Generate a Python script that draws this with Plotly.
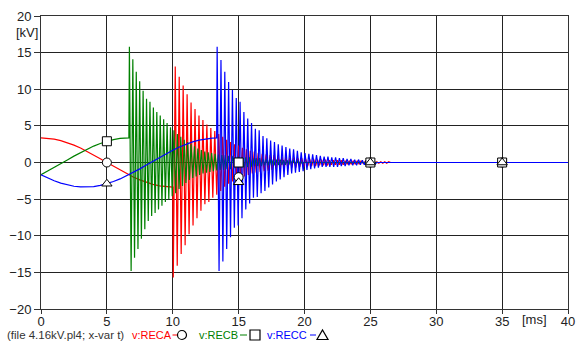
import plotly.graph_objects as go

# ---------------- data (kV, ms) ----------------
# 50 Hz phase voltages sampled every 0.5 ms up to each pole's interruption
pre_step = 0.5
A_pre = [3.35, 3.31, 3.19, 2.98, 2.71, 2.37, 1.97, 1.52, 1.04, 0.52, 0.0,
         -0.52, -1.04, -1.52, -1.97, -2.37, -2.71, -2.98, -3.19, -3.31, -3.35]
B_pre = [-1.68, -1.20, -0.70, -0.18, 0.35, 0.87, 1.36, 1.82, 2.24, 2.60, 2.90,
         3.13, 3.28, 3.35]
C_pre = [-1.68, -2.11, -2.49, -2.81, -3.06, -3.24, -3.33, -3.35, -3.28, -3.13,
         -2.90, -2.60, -2.24, -1.82, -1.36, -0.87, -0.35, 0.18, 0.70, 1.20, 1.68,
         2.11, 2.49, 2.81, 3.06, 3.24, 3.33]

# interruption instant, voltage at interruption, half period of the ringing
chop_t = {"A": 10.0, "B": 6.67, "C": 13.33}
chop_v = {"A": -3.35, "B": 3.35, "C": 3.35}
half_T = {"A": 0.15, "B": 0.13, "C": 0.145}

# successive ringing extremes after interruption (first swing, opposite swing)
A_first = [-15.7, -14.1, -12.5, -11.3, -9.8, -8.6, -7.6, -6.6, -5.7, -5.4,
           -4.8, -4.4, -3.9, -3.3, -2.9, -2.6, -2.3, -2.1, -1.9, -1.7,
           -1.5, -1.4, -1.3, -1.2, -1.1, -1.0, -0.9, -0.9, -0.8, -0.8,
           -0.7, -0.7, -0.6, -0.6, -0.5, -0.5, -0.5, -0.4, -0.4, -0.4,
           -0.3, -0.3, -0.3, -0.3, -0.2, -0.2, -0.2, -0.2, -0.1, -0.1,
           -0.1, -0.1, -0.1, -0.1, -0.1]
A_second = [13.1, 11.7, 10.5, 9.3, 8.2, 7.3, 6.4, 5.8, 5.2, 4.7,
            4.3, 3.9, 3.5, 3.1, 2.8, 2.5, 2.3, 2.0, 1.8, 1.6,
            1.5, 1.3, 1.2, 1.1, 1.0, 1.0, 0.9, 0.8, 0.8, 0.7,
            0.7, 0.6, 0.6, 0.5, 0.5, 0.5, 0.4, 0.4, 0.4, 0.3,
            0.3, 0.3, 0.3, 0.2, 0.2, 0.2, 0.2, 0.2, 0.1, 0.1,
            0.1, 0.1, 0.1, 0.1, 0.1]
B_first = [15.8, 14.1, 12.4, 11.1, 9.8, 8.7, 8.3, 7.5, 6.9, 6.4,
           5.9, 5.4, 4.8, 4.4, 3.9, 3.5, 3.1, 2.8, 2.5, 2.2,
           1.9, 1.7, 1.5, 1.4, 1.3, 1.2, 1.1, 1.0, 1.0, 0.9,
           0.9, 0.8, 0.8, 0.7, 0.7, 0.7, 0.6, 0.6, 0.6, 0.5,
           0.5, 0.5, 0.4, 0.4, 0.4, 0.3, 0.3, 0.3, 0.3, 0.2, 0.2]
B_second = [-14.8, -13.0, -11.8, -10.4, -9.1, -8.0, -7.3, -6.9, -6.4, -5.9,
            -5.4, -5.0, -4.6, -4.2, -3.6, -3.2, -2.8, -2.4, -2.1, -1.9,
            -1.7, -1.5, -1.4, -1.3, -1.2, -1.1, -1.0, -1.0, -0.9, -0.9,
            -0.8, -0.8, -0.7, -0.7, -0.6, -0.6, -0.5, -0.5, -0.5, -0.4,
            -0.4, -0.4, -0.4, -0.3, -0.3, -0.3, -0.3, -0.2, -0.2, -0.2, -0.2]
C_first = [15.8, 14.0, 12.4, 11.0, 9.9, 8.8, 8.3, 6.9, 6.0, 5.4,
           4.6, 4.4, 3.6, 3.3, 3.0, 2.8, 2.5, 2.3, 2.1, 1.9,
           1.8, 1.6, 1.4, 1.3, 1.2, 1.1, 1.0, 0.9, 0.8, 0.8,
           0.7, 0.7, 0.6, 0.6, 0.5, 0.5, 0.4, 0.4, 0.3, 0.3, 0.2, 0.1]
C_second = [-14.8, -13.5, -11.8, -10.2, -8.9, -8.6, -7.6, -6.4, -5.6, -4.8,
            -4.7, -4.2, -3.9, -3.4, -3.0, -2.6, -2.3, -2.0, -1.7, -1.5,
            -1.4, -1.3, -1.2, -1.0, -0.9, -0.8, -0.7, -0.6, -0.6, -0.6,
            -0.6, -0.6, -0.5, -0.5, -0.4, -0.4, -0.4, -0.3, -0.3, -0.2, -0.2, -0.1]

# curve markers
mark_t = [5, 15, 25, 35]
A_mark = [0.0, -2.0, 0.0, 0.0]
B_mark = [2.9, 0.0, 0.0, 0.0]
C_mark = [-2.9, -2.7, 0.0, 0.0]

T_END = 40.0
RED, GREEN, BLUE = "#ff0000", "#008000", "#0000ff"
FONT = "Liberation Sans, Arial, sans-serif"


def build(pre, key, first, second):
    t = [i * pre_step for i in range(len(pre))]
    v = list(pre)
    if t[-1] < chop_t[key] - 1e-9:
        t.append(chop_t[key])
        v.append(chop_v[key])
    h = half_T[key]
    tk = chop_t[key] + 0.04
    for a, b in zip(first, second):
        t += [tk, tk + h]
        v += [a, b]
        tk += 2 * h
    t += [tk, T_END]
    v += [0.0, 0.0]
    return t, v


tA, vA = build(A_pre, "A", A_first, A_second)
tB, vB = build(B_pre, "B", B_first, B_second)
tC, vC = build(C_pre, "C", C_first, C_second)

fig = go.Figure()
for t, v, c in [(tA, vA, RED), (tB, vB, GREEN), (tC, vC, BLUE)]:
    fig.add_trace(go.Scatter(x=t, y=v, mode="lines",
                             line=dict(color=c, width=1.2), hoverinfo="skip"))
for vals, sym in [(A_mark, "circle"), (B_mark, "square"), (C_mark, "triangle-up")]:
    fig.add_trace(go.Scatter(x=mark_t, y=vals, mode="markers",
                             marker=dict(symbol=sym, size=9, color="white",
                                         line=dict(color="black", width=1))))

# page geometry
WIDTH, HEIGHT = 581, 341
L, R, TOP, BOT = 41, 13, 16, 32
PW, PH = WIDTH - L - R, HEIGHT - TOP - BOT


def px(x):
    return (x - L) / PW


def py(y):
    return (HEIGHT - BOT - y) / PH


axis_common = dict(showgrid=True, gridcolor="#222", gridwidth=1, zeroline=False,
                   showline=True, linecolor="#333", linewidth=1, mirror=True,
                   ticks="outside", tickcolor="#333", tickwidth=1, automargin=False,
                   tickfont=dict(family=FONT, size=13, color="#222"))

fig.update_xaxes(range=[0, 40], tickvals=list(range(0, 41, 5)), ticklen=4,
                 ticklabelstandoff=-4, **axis_common)
fig.update_yaxes(range=[-20, 20], tickvals=list(range(-20, 21, 5)), ticklen=6, **axis_common)

ann = []


def text(x, y, s, color="#222", size=13, anchor="center"):
    ann.append(dict(xref="paper", yref="paper", x=px(x), y=py(y), text=s,
                    showarrow=False, xanchor=anchor, yanchor="middle",
                    font=dict(family=FONT, size=size, color=color)))


text(27, 33, "[kV]")
text(534, 320, "[ms]")

LY = 335
text(65.5, LY, "(file 4.16kV.pl4; x-var t)", color="#333", size=11.5)
text(151.5, LY, "v:RECA", color=RED, size=11)
text(218.5, LY, "v:RECB", color=GREEN, size=11)
text(286.5, LY, "v:RECC", color=BLUE, size=11)

shapes = []


def seg(x0, x1, y, color):
    shapes.append(dict(type="line", xref="paper", yref="paper",
                       x0=px(x0), x1=px(x1), y0=py(y), y1=py(y),
                       line=dict(color=color, width=1)))


seg(172.5, 177.5, LY, RED)
shapes.append(dict(type="circle", xref="paper", yref="paper",
                   x0=px(177.5), x1=px(186.5), y0=py(LY - 4.5), y1=py(LY + 4.5),
                   line=dict(color="black", width=1.2)))
seg(240, 247, LY, GREEN)
shapes.append(dict(type="rect", xref="paper", yref="paper",
                   x0=px(250), x1=px(260), y0=py(LY - 5), y1=py(LY + 5),
                   line=dict(color="black", width=1.2)))
seg(310, 316, LY, BLUE)
tx0, tx1, ty0, ty1 = px(317), px(328), py(LY + 4.5), py(LY - 5)
shapes.append(dict(type="path", xref="paper", yref="paper",
                   path=f"M {tx0} {ty0} L {tx1} {ty0} L {(tx0 + tx1) / 2} {ty1} Z",
                   line=dict(color="black", width=1.2)))

fig.update_layout(width=WIDTH, height=HEIGHT, autosize=False,
                  margin=dict(l=L, r=R, t=TOP, b=BOT, pad=0),
                  paper_bgcolor="white", plot_bgcolor="white",
                  showlegend=False, annotations=ann, shapes=shapes,
                  font=dict(family=FONT))

fig.write_html("out.html")
